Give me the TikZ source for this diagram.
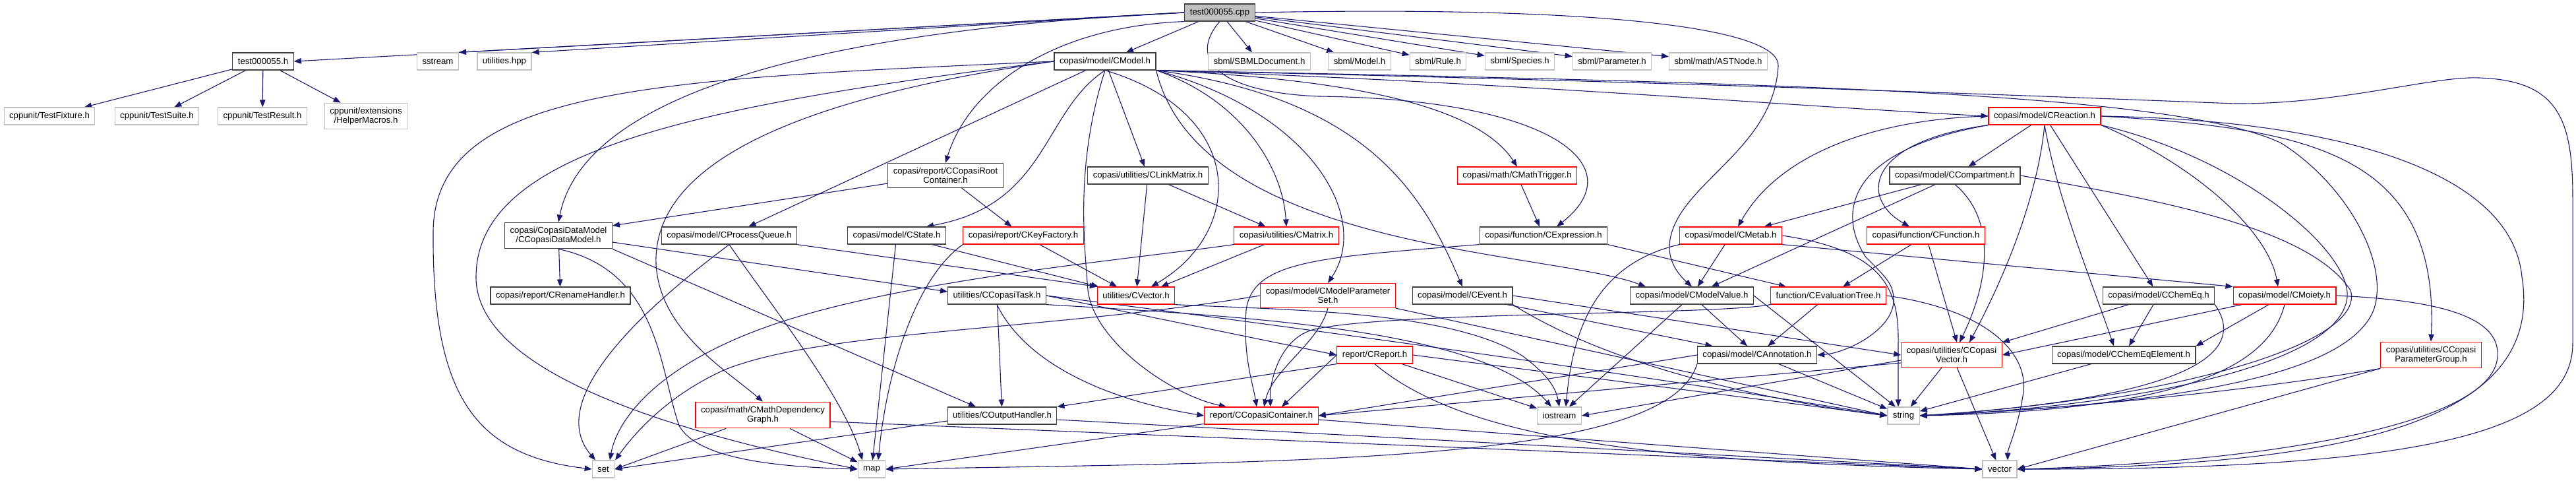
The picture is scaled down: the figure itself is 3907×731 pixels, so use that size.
\documentclass[tikz,border=0pt]{standalone}
\usepackage{fontspec}
\setmainfont{Liberation Sans}
\usetikzlibrary{arrows.meta}
\definecolor{edgeblue}{HTML}{191970}
\definecolor{boxgray}{HTML}{BFBFBF}
\definecolor{boxdark}{HTML}{404040}
\newcommand{\grfont}{\fontsize{13.2}{14.3}\selectfont}
\pgfdeclarelayer{bg}
\pgfsetlayers{bg,main}
\tikzset{
  hdr/.style={draw=boxdark, line width=1.2pt, fill=white, minimum height=26pt, inner xsep=8pt, inner ysep=6.5pt, align=center, font=\grfont},
  syshdr/.style={hdr, draw=boxgray},
  redhdr/.style={hdr, draw=red},
  roothdr/.style={hdr, fill=boxgray},
  incl/.style={draw=edgeblue, line width=1.1pt, -{Triangle[length=11pt,width=8.5pt]}}
}
\begin{document}
\begin{tikzpicture}[x=1pt,y=1pt]
\useasboundingbox (0,0) rectangle (3907,-731);
%nodo radice
\node[roothdr] (cpp) at (1850,-19) {test000055.cpp};
%riga 2
\node[hdr] (th) at (399,-93) {test000055.h};
\node[syshdr] (sstream) at (664,-93) {sstream};
\node[syshdr] (utilhpp) at (765,-93) {utilities.hpp};
\node[hdr] (cmodel) at (1676,-93) {copasi/model/CModel.h};
\node[syshdr] (sbmldoc) at (1910,-93) {sbml/SBMLDocument.h};
\node[syshdr] (sbmlmodel) at (2062,-93) {sbml/Model.h};
\node[syshdr] (sbmlrule) at (2181,-93) {sbml/Rule.h};
\node[syshdr] (sbmlspecies) at (2305,-93) {sbml/Species.h};
\node[syshdr] (sbmlparam) at (2445,-93) {sbml/Parameter.h};
\node[syshdr] (astnode) at (2606,-93) {sbml/math/ASTNode.h};
%riga 3
\node[syshdr] (tfix) at (75,-176) {cppunit/TestFixture.h};
\node[syshdr] (tsuite) at (238,-176) {cppunit/TestSuite.h};
\node[syshdr] (tresult) at (398,-176) {cppunit/TestResult.h};
\node[syshdr] (helper) at (555,-176) {cppunit/extensions\\/HelperMacros.h};
\node[redhdr] (creaction) at (3101,-176) {copasi/model/CReaction.h};
%riga 4
\node[hdr] (rootcont) at (1434,-266) {copasi/report/CCopasiRoot\\Container.h};
\node[hdr] (linkmatrix) at (1741,-266) {copasi/utilities/CLinkMatrix.h};
\node[redhdr] (mathtrigger) at (2301,-266) {copasi/math/CMathTrigger.h};
\node[hdr] (compartment) at (2965,-266) {copasi/model/CCompartment.h};
%riga 5
\node[hdr] (datamodel) at (847,-357) {copasi/CopasiDataModel\\/CCopasiDataModel.h};
\node[hdr] (procqueue) at (1106,-357) {copasi/model/CProcessQueue.h};
\node[hdr] (cstate) at (1360,-357) {copasi/model/CState.h};
\node[redhdr] (keyfactory) at (1552,-357) {copasi/report/CKeyFactory.h};
\node[redhdr] (cmatrix) at (1951,-357) {copasi/utilities/CMatrix.h};
\node[hdr] (cexpression) at (2341,-357) {copasi/function/CExpression.h};
\node[redhdr] (cmetab) at (2625,-357) {copasi/model/CMetab.h};
\node[redhdr] (cfunction) at (2921,-357) {copasi/function/CFunction.h};
%riga 6
\node[hdr] (rename) at (850,-448) {copasi/report/CRenameHandler.h};
\node[hdr] (copasitask) at (1512,-448) {utilities/CCopasiTask.h};
\node[redhdr] (cvector) at (1723,-448) {utilities/CVector.h};
\node[redhdr] (paramset) at (2014,-448) {copasi/model/CModelParameter\\Set.h};
\node[hdr] (cevent) at (2218,-448) {copasi/model/CEvent.h};
\node[hdr] (modelvalue) at (2566,-448) {copasi/model/CModelValue.h};
\node[redhdr] (evaltree) at (2773,-448) {function/CEvaluationTree.h};
\node[hdr] (chemeq) at (3274,-448) {copasi/model/CChemEq.h};
\node[redhdr] (moiety) at (3465,-448) {copasi/model/CMoiety.h};
%riga 7
\node[redhdr] (creport) at (2085,-538) {report/CReport.h};
\node[hdr] (annotation) at (2665,-538) {copasi/model/CAnnotation.h};
\node[redhdr] (copasivector) at (2960,-538) {copasi/utilities/CCopasi\\Vector.h};
\node[hdr] (chemeqelem) at (3221,-538) {copasi/model/CChemEqElement.h};
\node[redhdr] (paramgroup) at (3687,-538) {copasi/utilities/CCopasi\\ParameterGroup.h};
%riga 8
\node[redhdr] (mathdep) at (1157,-629) {copasi/math/CMathDependency\\Graph.h};
\node[hdr] (outhandler) at (1520,-630) {utilities/COutputHandler.h};
\node[redhdr] (container) at (1913,-630) {report/CCopasiContainer.h};
\node[syshdr] (iostream) at (2365,-630) {iostream};
\node[syshdr] (string) at (2887,-630) {string};
%riga 9
\node[syshdr] (set) at (915,-711) {set};
\node[syshdr] (map) at (1322,-711) {map};
\node[syshdr] (vector) at (3033,-711) {vector};

\begin{pgfonlayer}{bg}
%archi da test000055.cpp
\draw[incl] (cpp.west) -- (th.east);
\draw[incl] (cpp.west) -- (sstream.north east);
\draw[incl] (cpp.west) -- (utilhpp.north east);
\draw[incl] (cpp.west) .. controls (1150,-50) and (880,-170) .. (datamodel.north);
\draw[incl] (cpp.south west) .. controls (1600,-40) and (1470,-130) .. (rootcont.north);
\draw[incl] (cpp) -- (cmodel);
\draw[incl] (cpp) -- (sbmldoc);
\draw[incl] (cpp) -- (sbmlmodel);
\draw[incl] (cpp) -- (sbmlrule);
\draw[incl] (cpp) -- (sbmlspecies);
\draw[incl] (cpp) -- (sbmlparam);
\draw[incl] (cpp) -- (astnode);
\draw[incl] (cpp.east) .. controls (2450,-8) and (2700,-45) .. (2697,-100) .. controls (2690,-230) and (2540,-280) .. (2532,-370) .. controls (2530,-400) and (2550,-420) .. (modelvalue.north);
\draw[incl] (cpp.south) .. controls (1800,-90) and (1850,-140) .. (2000,-146) .. controls (2350,-150) and (2480,-250) .. ([xshift=20pt]cexpression.north);
%archi da test000055.h
\draw[incl] (th) -- (tfix);
\draw[incl] (th) -- (tsuite);
\draw[incl] (th) -- (tresult);
\draw[incl] (th) -- (helper);
%archi da CModel.h
\draw[incl] (cmodel.south east) .. controls (2300,-125) and (2700,-160) .. (creaction.west);
\draw[incl] (cmodel) -- (linkmatrix);
\draw[incl] (cmodel.south east) .. controls (2050,-120) and (2240,-160) .. (mathtrigger.north);
\draw[incl] (cmodel) -- (procqueue);
\draw[incl] (cmodel.south) .. controls (1580,-170) and (1590,-310) .. ([xshift=45pt]cstate.north);
\draw[incl] (cmodel.south east) .. controls (1880,-150) and (1945,-250) .. (cmatrix.north);
\draw[incl] (cmodel.south) .. controls (1890,-170) and (1890,-350) .. ([xshift=23pt]cvector.north);
\draw[incl] (cmodel.west) .. controls (1000,-120) and (660,-130) .. (657,-350) .. controls (655,-600) and (720,-690) .. (set.west);
\draw[incl] (cmodel.west) .. controls (1050,-160) and (722,-230) .. (722,-420) .. controls (722,-560) and (1000,-650) .. (map.west);
\draw[incl] (cmodel.west) .. controls (1200,-150) and (990,-250) .. (995,-400) .. controls (1000,-500) and (1100,-560) .. (mathdep.north);
\draw[incl] (cmodel.south) .. controls (1630,-250) and (1645,-370) .. (1650,-440) .. controls (1660,-520) and (1780,-600) .. ([xshift=-53pt]container.north);
\draw[incl] (cmodel.south east) .. controls (1990,-170) and (2080,-330) .. (paramset.north);
\draw[incl] (cmodel.south east) .. controls (2080,-150) and (2160,-300) .. (cevent.north);
\draw[incl] (cmodel.south east) .. controls (1820,-380) and (2350,-380) .. ([xshift=-70pt]modelvalue.north);
\draw[incl] (cmodel.south east) .. controls (2600,-125) and (3200,-150) .. (3390,-157) .. controls (3550,-158) and (3690,-115) .. (3760,-118) .. controls (3880,-122) and (3902,-180) .. (3902,-300) -- (3902,-520) .. controls (3902,-650) and (3700,-712) .. (vector.east);
\draw[incl] (cmodel.south east) .. controls (2700,-125) and (3300,-140) .. (3460,-217) .. controls (3560,-280) and (3625,-400) .. (3600,-470) .. controls (3560,-570) and (3300,-612) .. (string.east);
%archi da CReaction.h
\draw[incl] (creaction) -- (compartment);
\draw[incl] (creaction.west) .. controls (2850,-180) and (2700,-230) .. ([xshift=11pt]cmetab.north);
\draw[incl] (creaction.south west) .. controls (2830,-215) and (2820,-300) .. ([xshift=-25pt]cfunction.north);
\draw[incl] (creaction.south) .. controls (3090,-300) and (3040,-420) .. ([xshift=27pt]copasivector.north);
\draw[incl] (creaction) -- (chemeq);
\draw[incl] (creaction.south) .. controls (3120,-300) and (3170,-420) .. ([xshift=-15pt]chemeqelem.north);
\draw[incl] (creaction.south east) .. controls (3330,-250) and (3440,-350) .. ([xshift=-10pt]moiety.north);
\draw[incl] (creaction.east) .. controls (3500,-195) and (3700,-230) .. (paramgroup.north);
\draw[incl] (creaction.east) .. controls (3550,-182) and (3810,-260) .. (3825,-420) .. controls (3860,-640) and (3560,-705) .. (vector.east);
\draw[incl] (creaction.south east) .. controls (3400,-240) and (3565,-380) .. (3560,-450) .. controls (3550,-560) and (3200,-618) .. (string.east);
\draw[incl] (creaction.south west) .. controls (2790,-230) and (2790,-330) .. (2830,-390) .. controls (2860,-420) and (2872,-430) .. (2872,-455) .. controls (2872,-500) and (2800,-535) .. (annotation.east);
%archi da CCompartment.h
\draw[incl] (compartment) -- (cmetab);
\draw[incl] (compartment) -- (modelvalue);
\draw[incl] (compartment.south) .. controls (3025,-330) and (3020,-420) .. ([xshift=12pt]copasivector.north);
\draw[incl] (compartment.east) .. controls (3250,-300) and (3500,-340) .. (3565,-440) .. controls (3590,-520) and (3300,-605) .. (string.east);
%archi da CMetab.h
\draw[incl] (cmetab) -- (modelvalue);
\draw[incl] (cmetab.south east) -- (moiety.north west);
\draw[incl] (cmetab.east) .. controls (2860,-380) and (2880,-440) .. (2879,-520) -- ([xshift=-8pt]string.north);
\draw[incl] (cmetab.south west) .. controls (2420,-400) and (2385,-500) .. ([xshift=10pt]iostream.north);
%archi da CFunction.h ed espressioni
\draw[incl] (cfunction) -- (evaltree);
\draw[incl] (cfunction) -- ([xshift=8pt]copasivector.north);
\draw[incl] (cexpression.south east) -- ([xshift=-64pt]evaltree.north);
\draw[incl] (cexpression.south west) .. controls (2000,-390) and (1900,-395) .. (1890,-470) .. controls (1885,-540) and (1900,-580) .. ([xshift=-7pt]container.north);
\draw[incl] (evaltree) -- (annotation);
\draw[incl] (evaltree.east) .. controls (3020,-470) and (3080,-540) .. (3068,-600) .. controls (3060,-650) and (3045,-680) .. ([xshift=12pt]vector.north);
\draw[incl] (evaltree.south west) .. controls (2600,-478) and (2100,-472) .. (1990,-500) .. controls (1940,-515) and (1925,-580) .. ([xshift=14pt]container.north);
\draw[incl] (mathtrigger) -- (cexpression);
%archi da CLinkMatrix.h e CMatrix.h
\draw[incl] (linkmatrix) -- (cmatrix);
\draw[incl] (linkmatrix) -- (cvector);
\draw[incl] (cmatrix) -- ([xshift=38pt]cvector.north);
\draw[incl] (cmatrix.south west) .. controls (1700,-395) and (1350,-425) .. (1150,-500) .. controls (990,-560) and (935,-640) .. ([xshift=10pt]set.north);
%archi da CCopasiRootContainer.h
\draw[incl] ([yshift=-12pt]rootcont.west) -- ([yshift=15pt]datamodel.east);
\draw[incl] (rootcont) -- (keyfactory);
%archi da CKeyFactory.h, CState.h, CProcessQueue.h
\draw[incl] (keyfactory) -- ([xshift=-29pt]cvector.north);
\draw[incl] (keyfactory.south west) .. controls (1390,-420) and (1345,-560) .. ([xshift=10pt]map.north);
\draw[incl] (cstate) -- ([xshift=-57pt]cvector.north);
\draw[incl] (cstate) -- (map);
\draw[incl] (procqueue.south) .. controls (1000,-450) and (820,-600) .. ([xshift=-12pt]set.north);
\draw[incl] (procqueue.south) .. controls (1160,-450) and (1280,-600) .. ([xshift=-14pt]map.north);
\draw[incl] (procqueue.south east) -- (cvector.north west);
%archi da CCopasiDataModel.h
\draw[incl] (datamodel) -- (rename);
\draw[incl] ([yshift=-10pt]datamodel.east) -- ([yshift=6pt]copasitask.west);
\draw[incl] (datamodel.south east) -- ([xshift=-40pt]outhandler.north);
\draw[incl] (datamodel.south) .. controls (1000,-410) and (1000,-560) .. (1030,-645) .. controls (1060,-700) and (1200,-708) .. (map.west);
%archi da CCopasiTask.h e CVector.h
\draw[incl] (copasitask) -- (outhandler);
\draw[incl] (copasitask.east) -- (creport.west);
\draw[incl] (copasitask.south) .. controls (1560,-560) and (1700,-610) .. (container.west);
\draw[incl] (copasitask.south east) .. controls (1900,-480) and (2250,-500) .. ([xshift=-12pt]iostream.north);
\draw[incl] (copasitask.east) .. controls (2000,-500) and (2500,-570) .. (string.west);
\draw[incl] (cvector.south east) .. controls (1950,-470) and (2200,-470) .. (2310,-540) .. controls (2350,-570) and (2360,-590) .. (iostream.north);
%archi da CModelParameterSet.h e CEvent.h
\draw[incl] (paramset.south) .. controls (2000,-520) and (1930,-560) .. ([xshift=4pt]container.north);
\draw[incl] (paramset.south east) -- (string.west);
\draw[incl] (paramset.west) .. controls (1600,-500) and (1250,-500) .. (1100,-560) .. controls (1010,-600) and (960,-660) .. ([xshift=18pt]set.north);
\draw[incl] (cevent) -- (annotation);
\draw[incl] (cevent.south east) .. controls (2450,-560) and (2700,-610) .. (string.west);
\draw[incl] (cevent.east) -- (copasivector.west);
%archi da CModelValue.h
\draw[incl] (modelvalue) -- ([xshift=-15pt]annotation.north);
\draw[incl] (modelvalue) -- ([xshift=15pt]iostream.north);
\draw[incl] (modelvalue.east) -- ([xshift=-12pt]string.north);
%archi da CReport.h
\draw[incl] (creport.south west) -- (outhandler.north east);
\draw[incl] (creport) -- (iostream);
\draw[incl] (creport.east) -- (string.west);
\draw[incl] (creport.south) .. controls (2220,-665) and (2500,-700) .. (vector.west);
\draw[incl] (creport.west) -- ([xshift=31pt]container.north);
%archi da CAnnotation.h e CCopasiVector.h
\draw[incl] (annotation) -- (string);
\draw[incl] (annotation.south west) .. controls (2530,-700) and (2000,-700) .. (map.east);
\draw[incl] (annotation.west) -- (container.east);
\draw[incl] (copasivector) -- (string);
\draw[incl] (copasivector) -- (vector);
\draw[incl] ([yshift=-8pt]copasivector.west) -- (iostream.east);
\draw[incl] ([yshift=-12pt]copasivector.west) -- (container.east);
%archi da CChemEq.h, CChemEqElement.h, CMoiety.h
\draw[incl] (chemeq) -- (chemeqelem);
\draw[incl] (chemeq) -- (copasivector.north east);
\draw[incl] (chemeq.south east) .. controls (3400,-520) and (3370,-600) .. (string.east);
\draw[incl] (chemeqelem) -- (string);
\draw[incl] (moiety) -- (chemeqelem.north east);
\draw[incl] (moiety) -- (copasivector.east);
\draw[incl] (moiety.south) .. controls (3440,-560) and (3300,-622) .. (string.east);
\draw[incl] (moiety.east) .. controls (3700,-455) and (3792,-480) .. (3788,-540) .. controls (3782,-650) and (3400,-702) .. (vector.east);
%archi da CCopasiParameterGroup.h
\draw[incl] (paramgroup.south west) .. controls (3400,-595) and (3100,-622) .. (string.east);
\draw[incl] (paramgroup.south west) -- (vector.east);
%archi verso set, map, vector
\draw[incl] (mathdep) -- (set.east);
\draw[incl] (mathdep) -- (map);
\draw[incl] ([yshift=-10pt]mathdep.east) -- (vector.west);
\draw[incl] ([yshift=-8pt]outhandler.west) -- (set.east);
\draw[incl] ([yshift=-6pt]outhandler.east) -- (vector.west);
\draw[incl] (container) -- (map.east);
\draw[incl] ([yshift=-6pt]container.east) -- (vector.west);
\end{pgfonlayer}
\end{tikzpicture}
\end{document}
